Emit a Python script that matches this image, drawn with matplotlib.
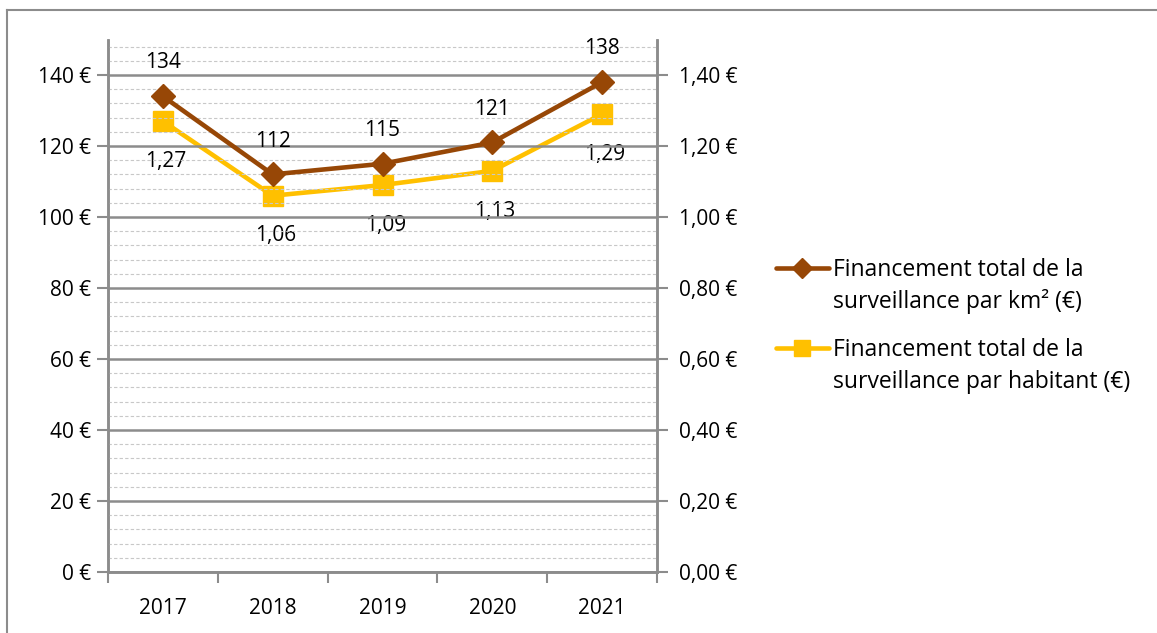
import matplotlib
matplotlib.use("Agg")
import matplotlib.pyplot as plt
from matplotlib.ticker import MultipleLocator, FuncFormatter
from matplotlib.lines import Line2D

years = ["2017", "2018", "2019", "2020", "2021"]
per_km2 = [134, 112, 115, 121, 138]
per_hab = [1.27, 1.06, 1.09, 1.13, 1.29]
km2_labels = ["134", "112", "115", "121", "138"]
hab_labels = ["1,27", "1,06", "1,09", "1,13", "1,29"]
legend_labels = [["Financement total de la", "surveillance par km² (€)"],
                 ["Financement total de la", "surveillance par habitant (€)"]]

plt.rcParams['font.family'] = ['Open Sans', 'DejaVu Sans']
FS = 15.0
FS_LEG = 16.5
W, H = 1157, 633
fig = plt.figure(figsize=(W/100, H/100), dpi=100)

# outer chart border (top and left visible)
fig.add_artist(Line2D([7/W, 7/W], [0, 1-9.5/H], transform=fig.transFigure, color='#8c8c8c', lw=1.5))
fig.add_artist(Line2D([7/W, 1], [1-9.5/H, 1-9.5/H], transform=fig.transFigure, color='#8c8c8c', lw=1.5))

ax = fig.add_axes([108/W, (H-572)/H, (657-108)/W, (572-39.5)/H])
ax2 = ax.twinx()

brown = '#974706'
yellow = '#FFC000'
grid_c = '#8c8c8c'

x = list(range(len(years)))
ax.set_xlim(-0.5, len(years)-0.5)
ax.set_ylim(0, 150)
ax2.set_ylim(0, 1.5)

ax.yaxis.set_major_locator(MultipleLocator(20))
ax.yaxis.set_minor_locator(MultipleLocator(4))
ax2.yaxis.set_major_locator(MultipleLocator(0.2))
ax.yaxis.set_major_formatter(FuncFormatter(lambda v, p: f"{int(round(v))} €"))
ax2.yaxis.set_major_formatter(FuncFormatter(lambda v, p: f"{v:.2f} €".replace('.', ',')))

ax.grid(which='minor', axis='y', color='#c8c8c8', ls=(0, (3, 2)), lw=0.8)
ax.grid(which='major', axis='y', color=grid_c, ls='-', lw=1.8)
ax.set_axisbelow(True)

ax.set_xticks([i - 0.5 for i in range(len(years)+1)])
ax.set_xticklabels([])
ax.set_xticks(x, minor=True)
ax.set_xticklabels(years, minor=True)
ax.tick_params(axis='x', which='major', length=8, color=grid_c, width=1.5, direction='out')
ax.tick_params(axis='x', which='minor', length=0, pad=19, labelsize=FS)
ax.tick_params(axis='y', which='major', length=8, color=grid_c, width=1.5, labelsize=FS, pad=4)
ax.tick_params(axis='y', which='minor', length=0)
ax2.tick_params(axis='y', length=8, color=grid_c, width=1.5, labelsize=FS, pad=8)

for a in (ax, ax2):
    for s in a.spines.values():
        s.set_color(grid_c)
        s.set_linewidth(1.8)
    a.spines['top'].set_visible(False)

ax2.plot(x, per_hab, color=yellow, lw=3.3, marker='s', ms=14.5, zorder=3)
ax.plot(x, per_km2, color=brown, lw=3.3, marker='D', ms=12.5, zorder=4)
ax.set_zorder(ax2.get_zorder() + 1)
ax.patch.set_visible(False)

for i, (v, t) in enumerate(zip(per_km2, km2_labels)):
    ax.annotate(t, (i, v), xytext=(0, 24), textcoords='offset points', ha='center', va='center', fontsize=FS)
for i, (v, t) in enumerate(zip(per_hab, hab_labels)):
    ax2.annotate(t, (i, v), xytext=(2, -29), textcoords='offset points', ha='center', va='center', fontsize=FS)

# legend drawn manually (handle aligned with first text line)
leg_y = [268, 348]
handles = [(brown, 'D', 10.5), (yellow, 's', 12)]
for (c, m, ms), y, lines in zip(handles, leg_y, legend_labels):
    fig.add_artist(Line2D([776/W, 829/W], [1-y/H, 1-y/H], transform=fig.transFigure,
                          color=c, lw=3.3, solid_capstyle='round'))
    fig.add_artist(Line2D([802/W], [1-y/H], transform=fig.transFigure,
                          color=c, marker=m, ms=ms, lw=0))
    for k, line in enumerate(lines):
        fig.text(833/W, 1-(y + 8.5 + 32*k)/H, line, ha='left', va='baseline', fontsize=FS_LEG)

fig.savefig("out.png", dpi=100)
